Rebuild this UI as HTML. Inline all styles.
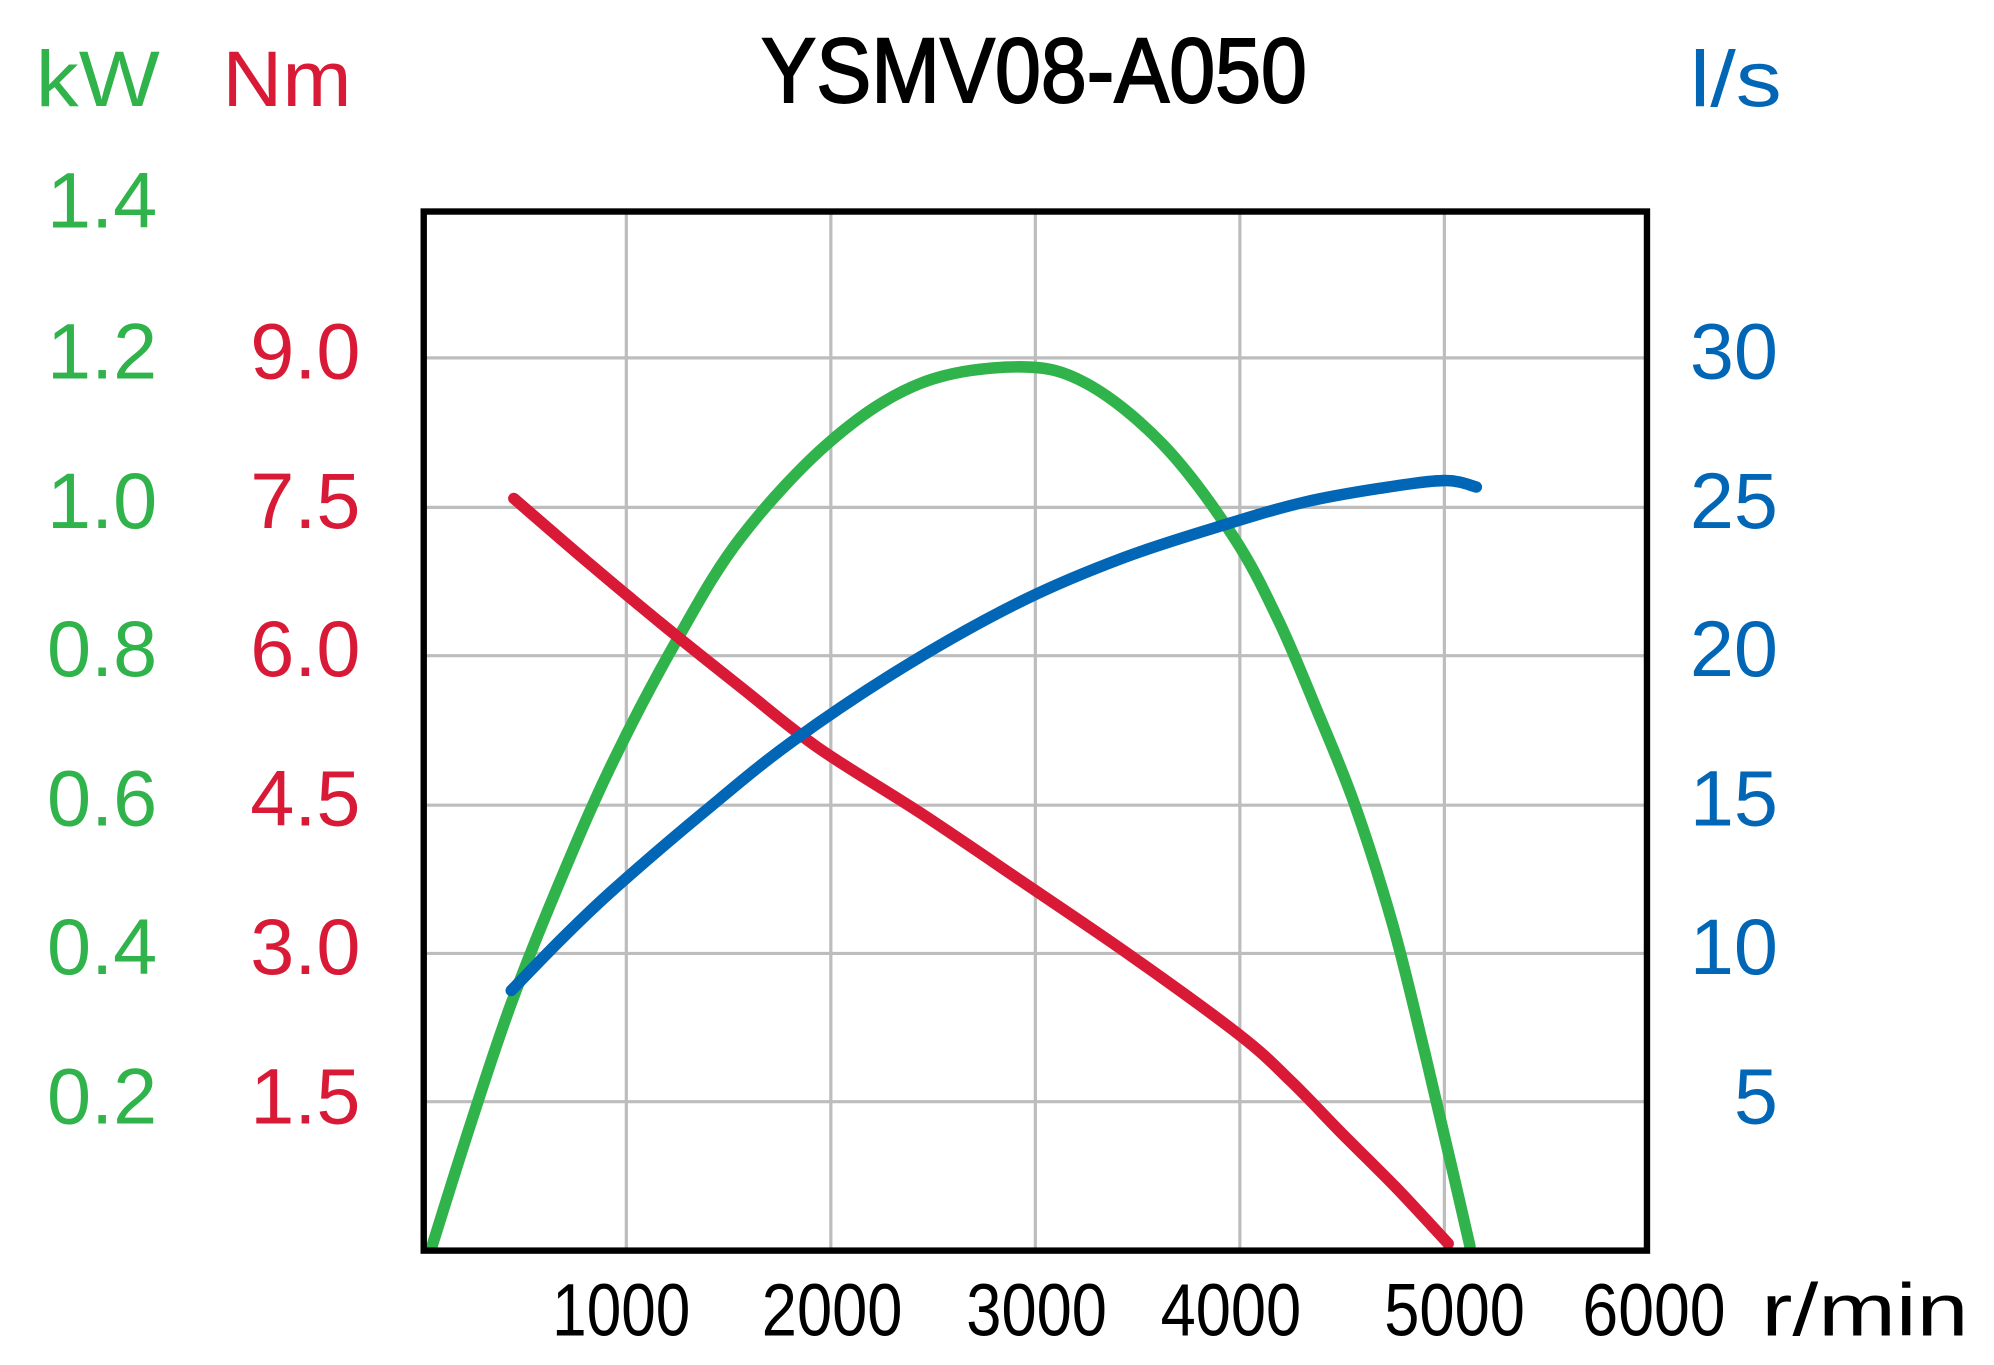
<!DOCTYPE html>
<html><head><style>html,body{margin:0;padding:0;background:#fff}svg{display:block}</style></head>
<body>
<svg width="1994" height="1365" viewBox="0 0 1560 1068" preserveAspectRatio="none" xmlns="http://www.w3.org/2000/svg" font-family="Liberation Sans, DejaVu Sans, sans-serif">
<g stroke="#bdbdbd" stroke-width="2.5">
<line x1="490" y1="164" x2="490" y2="979"/><line x1="650" y1="164" x2="650" y2="979"/><line x1="810" y1="164" x2="810" y2="979"/><line x1="970" y1="164" x2="970" y2="979"/><line x1="1130" y1="164" x2="1130" y2="979"/>
<line x1="330" y1="280" x2="1290" y2="280"/><line x1="330" y1="397" x2="1290" y2="397"/><line x1="330" y1="513" x2="1290" y2="513"/><line x1="330" y1="630" x2="1290" y2="630"/><line x1="330" y1="746" x2="1290" y2="746"/><line x1="330" y1="862" x2="1290" y2="862"/>
</g>
<g fill="none" stroke-width="9" stroke-linecap="round" stroke-linejoin="round">
<path id="g" stroke="#2fb34a" d=""/>
<path id="r" stroke="#d91a36" d=""/>
<path id="b" stroke="#0066b5" d=""/>
</g>
<rect x="331.5" y="165.5" width="957" height="813" fill="none" stroke="#000" stroke-width="5"/>
<text x="809" y="80" font-size="72" text-anchor="middle" textLength="427" lengthAdjust="spacingAndGlyphs" stroke="#000" stroke-width="1.5">YSMV08-A050</text>
<text x="28" y="83" fill="#2fb34a" font-size="62" textLength="97" lengthAdjust="spacingAndGlyphs">kW</text>
<text x="174" y="83" fill="#d91a36" font-size="62" textLength="101" lengthAdjust="spacingAndGlyphs">Nm</text>
<text x="1322" y="83" fill="#0066b5" font-size="62" textLength="72" lengthAdjust="spacingAndGlyphs">l/s</text>
<g fill="#2fb34a" font-size="62" text-anchor="end">
<text x="123" y="178">1.4</text><text x="123" y="296">1.2</text><text x="123" y="413">1.0</text><text x="123" y="529">0.8</text><text x="123" y="646">0.6</text><text x="123" y="762">0.4</text><text x="123" y="879">0.2</text>
</g>
<g fill="#d91a36" font-size="62" text-anchor="end">
<text x="282" y="296">9.0</text><text x="282" y="413">7.5</text><text x="282" y="529">6.0</text><text x="282" y="646">4.5</text><text x="282" y="762">3.0</text><text x="282" y="879">1.5</text>
</g>
<g fill="#0066b5" font-size="62" text-anchor="end">
<text x="1391" y="296">30</text><text x="1391" y="413">25</text><text x="1391" y="529">20</text><text x="1391" y="646">15</text><text x="1391" y="762">10</text><text x="1391" y="879">5</text>
</g>
<g fill="#000" font-size="58">
<text x="432" y="1045" textLength="108" lengthAdjust="spacingAndGlyphs">1000</text>
<text x="596" y="1045" textLength="110" lengthAdjust="spacingAndGlyphs">2000</text>
<text x="756" y="1045" textLength="110" lengthAdjust="spacingAndGlyphs">3000</text>
<text x="908" y="1045" textLength="110" lengthAdjust="spacingAndGlyphs">4000</text>
<text x="1083" y="1045" textLength="110" lengthAdjust="spacingAndGlyphs">5000</text>
<text x="1238" y="1045" textLength="112" lengthAdjust="spacingAndGlyphs">6000</text>
<text x="1378" y="1045" textLength="162" lengthAdjust="spacingAndGlyphs">r/min</text>
</g>
</svg>
<script>
function cr(p){var d="M"+p[0][0]+","+p[0][1];for(var i=0;i<p.length-1;i++){var p0=p[i-1]||p[i],p1=p[i],p2=p[i+1],p3=p[i+2]||p2;
var c1=[p1[0]+(p2[0]-p0[0])/6,p1[1]+(p2[1]-p0[1])/6],c2=[p2[0]-(p3[0]-p1[0])/6,p2[1]-(p3[1]-p1[1])/6];
d+=" C"+c1+" "+c2+" "+p2;}return d;}
document.getElementById("g").setAttribute("d",cr([[338,975],[368,880],[400,785],[440,685],[480,595],[530,500],[580,420],[650,345],[720,300],[797,287],[850,300],[910,348],[965,420],[1000,485],[1030,555],[1060,630],[1090,725],[1115,825],[1135,910],[1150,975]]));
document.getElementById("r").setAttribute("d",cr([[402,390],[460,440],[520,490],[580,538],[640,585],[720,636],[800,690],[885,748],[970,810],[1010,846],[1050,887],[1093,930],[1133,973]]));
document.getElementById("b").setAttribute("d",cr([[400,775],[440,734],[480,696],[550,636],[620,580],[710,520],[800,470],[880,436],[960,410],[1020,393],[1080,382],[1130,376],[1155,381]]));
</script>
</body></html>
